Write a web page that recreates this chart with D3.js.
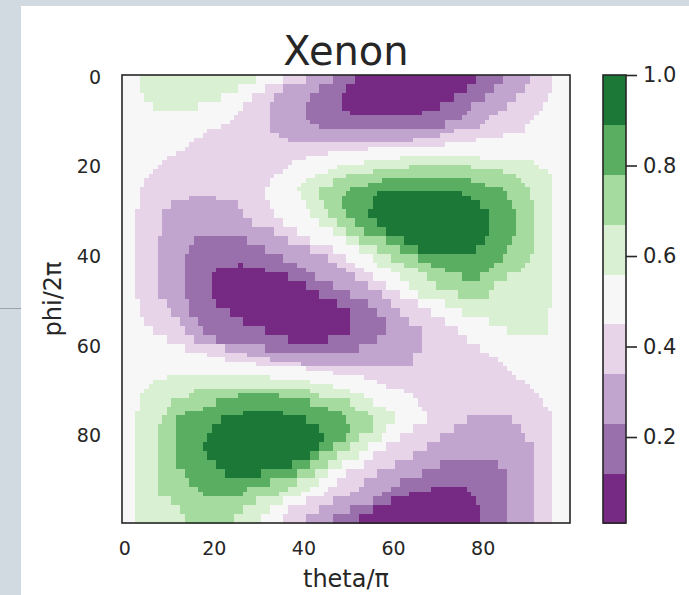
<!DOCTYPE html>
<html>
<head>
<meta charset="utf-8">
<script src="https://cdn.jsdelivr.net/npm/d3@7"></script>
<style>
  html, body { margin: 0; padding: 0; background: #d2dae1; }
  svg { display: block; }
  text { font-family: "DejaVu Sans", sans-serif; fill: #262626; }
</style>
</head>
<body>
<svg id="chart" width="689" height="595"></svg>
<script>
// ---------------- data ----------------
const title = "Xenon";
const xLabel = "theta/\u03c0";
const yLabel = "phi/2\u03c0";
const nCols = 100;            // theta samples
const nRows = 100;            // phi samples
const valueMin = 0.01;
const valueMax = 1.0;
const xTicks = [0, 20, 40, 60, 80];
const yTicks = [0, 20, 40, 60, 80];
const cbTicks = [0.2, 0.4, 0.6, 0.8, 1.0];
// "firstRow: level@firstColumn ..."  (level 0 = darkest purple ... 8 = darkest green)
// a line holds until the next line's first row
const levelRows = [
  "0: 4@0 5@4 4@30 3@36 2@41 1@47 0@52 1@79 2@85 3@91 4@96",
  "2: 4@0 5@4 4@26 3@32 2@36 1@44 0@50 1@77 2@83 3@90 4@96",
  "4: 4@0 5@5 4@22 3@29 2@34 1@42 0@49 1@74 2@81 3@88 4@95",
  "6: 4@0 5@7 4@17 3@27 2@33 1@41 0@49 1@71 2@78 3@86 4@94",
  "8: 4@0 3@26 2@33 1@41 0@51 1@67 2@77 3@84 4@93",
  "9: 4@0 3@25 2@33 1@41 2@76 3@82 4@92",
  "10: 4@0 3@24 2@33 1@42 2@72 3@81 4@91",
  "11: 4@0 3@22 2@33 1@44 2@72 3@80 4@90",
  "12: 4@0 3@19 2@33 3@74 4@90",
  "13: 4@0 3@18 2@35 3@71 4@85",
  "14: 4@0 3@16 2@37 3@65 4@79",
  "15: 4@0 3@15 4@72",
  "16: 4@0 3@14 4@55",
  "17: 4@0 3@12 4@46",
  "18: 4@0 3@10 4@41 5@62 4@80",
  "19: 4@0 3@9 4@38 5@54 4@92",
  "20: 4@0 3@8 4@37 5@48 6@64 5@78 4@93",
  "21: 4@0 3@7 4@36 5@46 6@56 5@85 4@95",
  "22: 4@0 3@6 4@34 5@43 6@50 5@88 4@96",
  "23: 4@0 3@5 4@33 5@41 6@47 7@58 6@78 5@89 4@96",
  "24: 4@0 3@5 4@33 5@40 6@47 7@55 6@81 5@90 4@96",
  "25: 4@0 3@4 4@32 5@39 6@44 7@51 6@85 5@91 4@96",
  "26: 4@0 3@4 4@32 5@40 6@44 7@50 8@57 7@76 6@86 5@91 4@96",
  "27: 4@0 3@4 2@15 3@21 4@32 5@40 6@44 7@49 8@56 7@78 6@86 5@91 4@96",
  "28: 4@0 3@4 2@11 3@26 4@33 5@41 6@45 7@49 8@56 7@80 6@87 5@92 4@96",
  "30: 4@0 3@3 2@9 3@27 4@34 5@42 6@46 7@50 8@55 7@82 6@88 5@92 4@96",
  "32: 4@0 3@3 2@9 3@29 4@36 5@44 6@48 7@52 8@57 7@82 6@88 5@92 4@96",
  "34: 4@0 3@3 2@9 3@34 4@39 5@47 6@50 7@54 8@59 7@82 6@88 5@92 4@96",
  "36: 4@0 3@3 2@8 1@16 2@28 3@37 4@42 5@50 6@53 7@59 8@63 7@81 6@87 5@92 4@96",
  "38: 4@0 3@3 2@8 1@15 2@32 3@42 4@47 5@53 6@57 7@62 8@66 7@79 6@86 5@92 4@96",
  "40: 4@0 3@3 2@8 1@14 2@36 3@46 4@50 5@56 6@60 7@66 6@85 5@91 4@96",
  "42: 4@0 3@3 2@8 1@14 0@26 1@27 2@39 3@48 4@52 5@57 6@63 7@69 6@83 5@90 4@96",
  "43: 4@0 3@3 2@8 1@14 0@21 1@32 2@41 3@50 4@54 5@60 6@66 7@72 6@82 5@89 4@96",
  "44: 4@0 3@3 2@8 1@14 0@20 1@37 2@43 3@52 4@56 5@62 6@68 7@76 6@80 5@86 4@96",
  "46: 4@0 3@3 2@8 1@14 0@20 1@41 2@47 3@55 4@59 5@64 6@70 5@83 4@96",
  "48: 4@0 3@3 2@8 1@14 0@20 1@44 2@51 3@58 4@62 5@66 6@75 5@82 4@96",
  "50: 4@0 3@4 2@10 1@15 0@21 1@48 2@55 3@60 4@66 5@72 4@96",
  "52: 4@0 3@4 2@11 1@15 0@24 1@51 2@57 3@62 4@69 5@76 4@95",
  "54: 4@0 3@5 2@13 1@17 0@27 1@51 2@59 3@64 4@72 5@82 4@95",
  "56: 4@0 3@7 2@14 1@18 0@32 1@51 2@59 3@67 4@75 5@86 4@95",
  "58: 4@0 3@10 2@16 1@21 0@37 1@46 2@57 3@67 4@77",
  "60: 4@0 3@14 2@23 1@32 2@53 3@67 4@80",
  "62: 4@0 3@19 2@28 3@65 4@82",
  "63: 4@0 3@23 2@33 3@65 4@84",
  "64: 4@0 3@30 2@40 3@65 4@85",
  "65: 4@0 3@41 4@86",
  "66: 4@0 3@47 4@87",
  "67: 4@0 5@10 4@33 3@54 4@88",
  "68: 4@0 5@7 4@42 3@57 4@90",
  "69: 4@0 5@6 4@47 3@59 4@91",
  "70: 4@0 5@5 6@16 5@42 4@51 3@63 4@92",
  "71: 4@0 5@4 6@15 7@26 6@35 5@44 4@54 3@65 4@93",
  "72: 4@0 5@4 6@11 7@21 6@42 5@51 4@56 3@66 4@94",
  "74: 4@0 5@4 6@10 7@18 6@46 5@52 4@59 3@67 4@95",
  "75: 4@0 5@3 6@10 7@14 8@27 7@36 6@49 5@55 4@61 3@68 4@96",
  "76: 4@0 5@3 6@9 7@12 8@22 7@41 6@50 5@56 4@61 3@68 2@77 3@87 4@96",
  "78: 4@0 5@3 6@8 7@12 8@20 7@44 6@51 5@56 4@59 3@65 2@74 3@89 4@96",
  "80: 4@0 5@3 6@8 7@12 8@19 7@45 6@50 5@53 4@58 3@62 2@71 3@90 4@96",
  "82: 4@0 5@3 6@8 7@12 8@18 7@44 6@47 5@51 4@55 3@59 2@68 3@92 4@96",
  "84: 4@0 5@3 6@8 7@12 8@19 7@42 6@44 5@48 4@53 3@56 2@65 3@92 4@96",
  "86: 4@0 5@3 6@8 7@12 8@21 7@38 6@42 5@46 4@49 3@54 2@61 1@71 2@84 3@92 4@96",
  "88: 4@0 5@3 6@8 7@14 8@23 7@31 6@39 5@43 4@46 3@50 2@57 1@67 2@86 3@92 4@96",
  "90: 4@0 5@3 6@8 7@15 6@33 5@39 4@44 3@48 2@54 1@62 2@86 3@92 4@96",
  "92: 4@0 5@3 6@8 7@17 6@28 5@37 4@42 3@46 2@53 1@60 0@69 1@77 2@86 3@92 4@96",
  "93: 4@0 5@3 6@8 7@18 6@27 5@35 4@40 3@45 2@51 1@58 0@64 1@78 2@86 3@92 4@96",
  "94: 4@0 5@3 6@11 5@30 4@36 3@41 2@47 1@56 0@60 1@79 2@86 3@92 4@96",
  "96: 4@0 5@3 6@13 5@27 4@33 3@37 2@44 1@51 0@56 1@80 2@86 3@92 4@96",
  "98: 4@0 5@3 6@14 5@25 4@31 3@36 2@41 1@47 0@53 1@80 2@86 3@92 4@96"
];

// ---------------- scales ----------------
const palette = d3.schemePRGn[9];
const color = d3.scaleQuantize().domain([valueMin, valueMax]).range(palette);
const levelValue = lvl => d3.mean(color.invertExtent(palette[lvl]));

const lines = levelRows.map(s => {
  const [head, body] = s.split(":");
  const runs = body.trim().split(/\s+/).map(t => {
    const [lvl, start] = t.split("@").map(Number);
    return { lvl, start };
  });
  return { row: +head, runs };
});
const cells = [];
lines.forEach((ln, li) => {
  const rowEnd = li + 1 < lines.length ? lines[li + 1].row : nRows;
  ln.runs.forEach((run, i) => {
    const end = i + 1 < ln.runs.length ? ln.runs[i + 1].start : nCols;
    for (let c = run.start; c < end; c++) {
      cells.push({ col: c, row: ln.row, h: rowEnd - ln.row, value: levelValue(run.lvl) });
    }
  });
});

const svg = d3.select("#chart");
const W = 689, H = 595;
const plot = { left: 122, top: 75, size: 448 };
const x = d3.scaleLinear().domain([-0.5, nCols - 0.5]).range([plot.left, plot.left + plot.size]);
const y = d3.scaleLinear().domain([-0.5, nRows - 0.5]).range([plot.top, plot.top + plot.size]);

// page background + white panel
svg.append("rect").attr("x", 0).attr("y", 0).attr("width", W).attr("height", H).attr("fill", "#d2dae1");
svg.append("rect").attr("x", 21).attr("y", 6).attr("width", W - 21).attr("height", H - 6).attr("fill", "#ffffff");
svg.append("line").attr("x1", 0).attr("x2", 21).attr("y1", 308.5).attr("y2", 308.5)
  .attr("stroke", "#9aa1a8").attr("stroke-width", 1);

// heatmap cells
svg.append("g").attr("shape-rendering", "crispEdges")
  .selectAll("rect").data(cells).join("rect")
  .attr("x", d => x(d.col - 0.5))
  .attr("y", d => y(d.row - 0.5))
  .attr("width", d => x(d.col + 0.5) - x(d.col - 0.5) + 0.5)
  .attr("height", d => y(d.row + d.h - 0.5) - y(d.row - 0.5) + 0.5)
  .attr("fill", d => color(d.value));

// frame
svg.append("rect").attr("x", plot.left).attr("y", plot.top)
  .attr("width", plot.size).attr("height", plot.size)
  .attr("fill", "none").attr("stroke", "#262626").attr("stroke-width", 1.6);

// axes (no tick marks)
const xAxis = d3.axisBottom(x).tickValues(xTicks).tickSize(0).tickPadding(19);
const gx = svg.append("g").attr("transform", `translate(0,${plot.top + plot.size})`).call(xAxis);
gx.select(".domain").remove();
gx.selectAll("text").style("font-size", "19px").style("fill", "#262626");

const yAxis = d3.axisLeft(y).tickValues(yTicks).tickSize(0).tickPadding(21);
const gy = svg.append("g").attr("transform", `translate(${plot.left},0)`).call(yAxis);
gy.select(".domain").remove();
gy.selectAll("text").style("font-size", "19px").style("fill", "#262626");

// labels
svg.append("text").attr("x", plot.left + plot.size / 2).attr("y", 65)
  .attr("text-anchor", "middle").style("font-size", "40px").text(title);
svg.append("text").attr("x", plot.left + plot.size / 2).attr("y", 587)
  .attr("text-anchor", "middle").style("font-size", "24px").text(xLabel);
svg.append("text").attr("transform", `translate(61,${plot.top + plot.size / 2}) rotate(-90)`)
  .attr("text-anchor", "middle").style("font-size", "24px").text(yLabel);

// colorbar
const cb = { left: 603, width: 23, top: 75, bottom: 523 };
const cy = d3.scaleLinear().domain([valueMin, valueMax]).range([cb.bottom, cb.top]);
const bins = palette.map(p => color.invertExtent(p));
svg.append("g").attr("shape-rendering", "crispEdges")
  .selectAll("rect").data(bins).join("rect")
  .attr("x", cb.left).attr("width", cb.width)
  .attr("y", d => cy(d[1]))
  .attr("height", d => cy(d[0]) - cy(d[1]) + 0.5)
  .attr("fill", d => color((d[0] + d[1]) / 2));
svg.append("rect").attr("x", cb.left).attr("y", cb.top).attr("width", cb.width)
  .attr("height", cb.bottom - cb.top).attr("fill", "none")
  .attr("stroke", "#262626").attr("stroke-width", 1.6);
const cAxis = d3.axisRight(cy).tickValues(cbTicks).tickFormat(d3.format(".1f")).tickSize(11).tickPadding(6);
const gc = svg.append("g").attr("transform", `translate(${cb.left + cb.width},0)`).call(cAxis);
gc.select(".domain").remove();
gc.selectAll("line").attr("stroke", "#262626").attr("stroke-width", 1.6);
gc.selectAll("text").style("font-size", "21px").style("fill", "#262626");
</script>
</body>
</html>
